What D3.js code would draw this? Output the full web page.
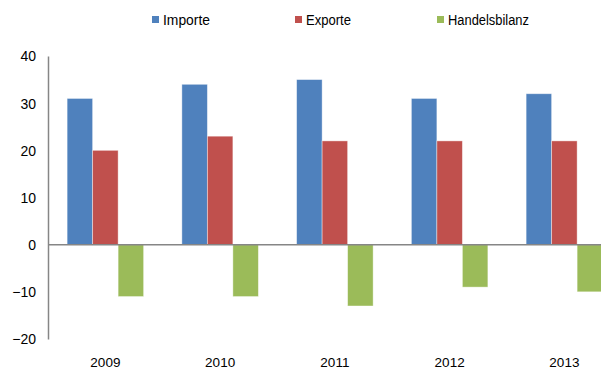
<!DOCTYPE html>
<html><head><meta charset="utf-8">
<script src="https://cdn.jsdelivr.net/npm/d3@7"></script>
<style>body{margin:0;background:#fff}svg{display:block}text{font-family:"Liberation Sans",Arial,sans-serif;fill:#000}</style>
</head><body><svg id="c" width="601" height="369"></svg>
<script>
const categories = ["2009","2010","2011","2012","2013"];
const seriesNames = ["Importe","Exporte","Handelsbilanz"];
const importe = [31,34,35,31,32];
const exporte = [20,23,22,22,22];
const handelsbilanz = [-11,-11,-13,-9,-10];
const yTicks = [40,30,20,10,0,-10,-20];
const colors = ["#4F81BD","#C0504D","#9BBB59"];

const series = [importe, exporte, handelsbilanz];
const svg = d3.select("#c");
const left = 48, bandW = 114.75;
const x = d3.scaleBand().domain(categories).range([left, left + bandW*categories.length]).paddingInner(0).paddingOuter(0);
const y = d3.scaleLinear().domain([-20,40]).range([339,56]);
const barW = bandW/4.5;
const xs = d3.scaleBand().domain(seriesNames).range([0, barW*3]);

// bars
series.forEach((vals,si)=>{
  svg.append("g").selectAll("rect").data(vals).join("rect")
    .attr("x",(d,i)=>x(categories[i]) + bandW*0.75/4.5 + xs(seriesNames[si]))
    .attr("y",d=>y(Math.max(0,d)))
    .attr("width",xs.bandwidth())
    .attr("height",d=>Math.abs(y(d)-y(0)))
    .attr("fill",colors[si])
    .attr("stroke","rgba(255,255,255,0.5)").attr("stroke-width",0.8);
});

// y axis
const ya = d3.axisLeft(y).tickValues(yTicks).tickSize(0).tickPadding(12);
const gy = svg.append("g").attr("transform",`translate(${left},0)`).call(ya);
gy.select(".domain").attr("stroke","#868686").attr("stroke-width",1.5);
gy.selectAll("text").style("font-size","14px").attr("dy","0.35em");

// zero line
svg.append("line").attr("x1",left).attr("x2",601).attr("y1",y(0)).attr("y2",y(0))
  .attr("stroke","#868686").attr("stroke-width",1.5);

// x labels
const xa = d3.axisBottom(x).tickSize(0).tickPadding(0);
const gx = svg.append("g").attr("transform",`translate(0,367)`).call(xa);
gx.select(".domain").remove();
gx.selectAll("text").style("font-size","13.5px").attr("y",0).attr("dy","0");

// legend
const legX = [152,295,437];
const legW = [47,45,81];
const lg = svg.append("g");
seriesNames.forEach((n,i)=>{
  lg.append("rect").attr("x",legX[i]).attr("y",16).attr("width",7).attr("height",7).attr("fill",colors[i]);
  lg.append("text").attr("x",legX[i]+11).attr("y",25).style("font-size","14px")
    .attr("textLength",legW[i]).attr("lengthAdjust","spacingAndGlyphs").text(n);
});
</script></body></html>
